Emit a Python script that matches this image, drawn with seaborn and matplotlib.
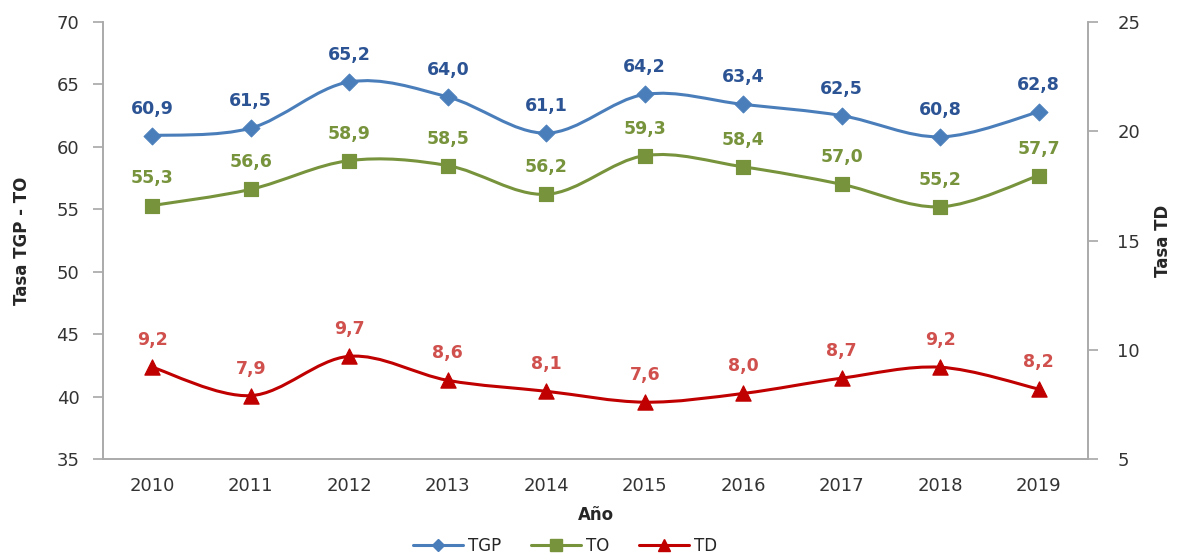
import numpy as np
import pandas as pd
import matplotlib
matplotlib.use("Agg")
import matplotlib.pyplot as plt
from matplotlib.path import Path
from matplotlib.patches import PathPatch
from matplotlib.lines import Line2D
import seaborn as sns

years = ["2010", "2011", "2012", "2013", "2014", "2015", "2016", "2017", "2018", "2019"]
tgp = [60.9, 61.5, 65.2, 64.0, 61.1, 64.2, 63.4, 62.5, 60.8, 62.8]
to = [55.3, 56.6, 58.9, 58.5, 56.2, 59.3, 58.4, 57.0, 55.2, 57.7]
td = [9.2, 7.9, 9.7, 8.6, 8.1, 7.6, 8.0, 8.7, 9.2, 8.2]

sns.set_theme(style="white")
plt.rcParams['font.family'] = ['DejaVu Sans']

fig = plt.figure(figsize=(11.8, 5.57), dpi=100)
ax = fig.add_axes([103/1180, 1-459/557, (1088-103)/1180, (459-22)/557])
ax2 = ax.twinx()

x = np.arange(len(years))
df = pd.DataFrame({"x": x, "TGP": tgp, "TO": to, "TD": td})

def smooth(axis, xs, ys, color, lw):
    xs = np.asarray(xs, float); ys = np.asarray(ys, float)
    n = len(xs)
    verts = [(xs[0], ys[0])]
    codes = [Path.MOVETO]
    for i in range(n - 1):
        p0 = np.array([xs[max(i-1, 0)], ys[max(i-1, 0)]])
        p1 = np.array([xs[i], ys[i]])
        p2 = np.array([xs[i+1], ys[i+1]])
        p3 = np.array([xs[min(i+2, n-1)], ys[min(i+2, n-1)]])
        c1 = p1 + (p2 - p0) / 6
        c2 = p2 - (p3 - p1) / 6
        verts += [tuple(c1), tuple(c2), tuple(p2)]
        codes += [Path.CURVE4] * 3
    axis.add_patch(PathPatch(Path(verts, codes), fill=False, edgecolor=color, lw=lw, zorder=2))

c_tgp, c_to, c_td = "#4A7EBB", "#77933C", "#C00000"
l_tgp, l_to, l_td = "#2C5494", "#77933C", "#D0504D"

smooth(ax, x, tgp, c_tgp, 2.2)
smooth(ax, x, to, c_to, 2.2)
smooth(ax2, x, td, c_td, 2.2)

sns.scatterplot(data=df, x="x", y="TGP", ax=ax, marker="D", s=75, color=c_tgp, edgecolor=c_tgp, zorder=3, legend=False)
sns.scatterplot(data=df, x="x", y="TO", ax=ax, marker="s", s=110, color=c_to, edgecolor=c_to, zorder=3, legend=False)
sns.scatterplot(data=df, x="x", y="TD", ax=ax2, marker="^", s=120, color=c_td, edgecolor=c_td, zorder=3, legend=False)

fmt = lambda v: f"{v:.1f}".replace(".", ",")
for xi, v in zip(x, tgp):
    ax.annotate(fmt(v), (xi, v), xytext=(0, 13), textcoords="offset points", ha="center", va="bottom",
                color=l_tgp, fontsize=12.5, fontweight="bold")
for xi, v in zip(x, to):
    ax.annotate(fmt(v), (xi, v), xytext=(0, 13), textcoords="offset points", ha="center", va="bottom",
                color=l_to, fontsize=12.5, fontweight="bold")
for xi, v in zip(x, td):
    ax2.annotate(fmt(v), (xi, v), xytext=(0, 13), textcoords="offset points", ha="center", va="bottom",
                 color=l_td, fontsize=12.5, fontweight="bold")

ax.set_xlim(-0.5, len(years) - 0.5)
ax.set_ylim(35, 70)
ax.set_yticks(range(35, 71, 5))
ax2.set_ylim(5, 25)
ax2.set_yticks(range(5, 26, 5))

ax.set_xticks(x)
ax.set_xticklabels(years)
ax.set_xticks(np.arange(-0.5, len(years)), minor=True)
ax.tick_params(axis="x", which="major", length=0, labelsize=13, colors="#333333", pad=13)
ax.tick_params(axis="x", which="minor", length=5, color="#AAAAAA", direction="out")
ax.tick_params(axis="y", length=7, color="#AAAAAA", direction="out", labelsize=13, labelcolor="#333333", left=True, pad=10)
ax2.tick_params(axis="y", length=7, color="#AAAAAA", direction="out", labelsize=13, labelcolor="#333333", right=True, pad=14)

for a in (ax, ax2):
    a.spines["top"].set_visible(False)
    for s in ("left", "right", "bottom"):
        a.spines[s].set_color("#AAAAAA")
        a.spines[s].set_linewidth(1.2)
ax.grid(False); ax2.grid(False)

ax.set_xlabel("Año", fontsize=12, fontweight="bold", labelpad=8)
ax.set_ylabel("Tasa TGP - TO", fontsize=12, fontweight="bold", labelpad=18)
ax2.set_ylabel("Tasa TD", fontsize=12, fontweight="bold", labelpad=10, rotation=90)

handles = [
    Line2D([], [], color=c_tgp, lw=2.2, marker="D", markersize=6),
    Line2D([], [], color=c_to, lw=2.2, marker="s", markersize=8),
    Line2D([], [], color=c_td, lw=2.2, marker="^", markersize=9),
]
fig.legend(handles, ["TGP", "TO", "TD"], loc="center", bbox_to_anchor=(565/1180, 1-546/557), ncol=3,
           frameon=False, fontsize=12, handlelength=3.0, columnspacing=1.8, handletextpad=0.3)

fig.savefig("out.png", dpi=100)
